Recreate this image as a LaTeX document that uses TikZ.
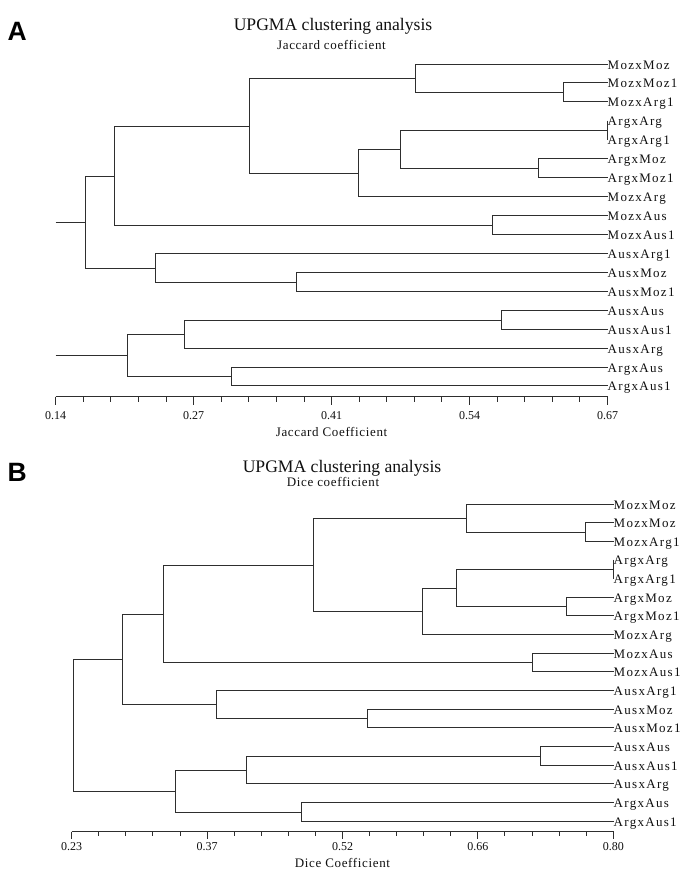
\documentclass[tikz,border=0pt]{standalone}
\usepackage{fontspec}
\setmainfont{Liberation Serif}
\setsansfont{Liberation Sans}
\newfontfamily\lblfont[LetterSpace=10]{Liberation Serif}
\newfontfamily\subfont[LetterSpace=5]{Liberation Serif}
\definecolor{linecol}{HTML}{2E2E2E}
\definecolor{txtcol}{HTML}{101010}
\begin{document}
\begin{tikzpicture}[x=1pt,y=-1pt,
  br/.style={draw=linecol, line width=1.6pt},
  axisline/.style={draw=linecol, line width=1.4pt},
  leaf/.style={anchor=west, inner sep=0pt, text=txtcol, font=\lblfont\fontsize{13}{14}\selectfont, text height=10.7pt, text depth=0pt},
  ticklbl/.style={anchor=base, inner sep=0pt, text=txtcol, font=\fontsize{12}{14}\selectfont},
  axtitle/.style={anchor=base, inner sep=0pt, text=txtcol, font=\subfont\fontsize{13}{15}\selectfont},
  maintitle/.style={anchor=base, inner sep=0pt, text=txtcol, font=\fontsize{17.6}{20}\selectfont},
  subtitle/.style={anchor=base, inner sep=0pt, text=txtcol, font=\subfont\fontsize{13}{15}\selectfont},
  panel/.style={anchor=base west, inner sep=0pt, font=\sffamily\bfseries\fontsize{26.5}{30}\selectfont}
]
\useasboundingbox (0,0) rectangle (685,886);

% ================= Panel A =================
\node[panel] (pA) at (7.5,40) {A};
\node[maintitle] (tA) at (333,30.7) {UPGMA clustering analysis};
\node[subtitle] (sA) at (331.5,49.3) {Jaccard coefficient};

\node[leaf] (A0) at (607.5,64.5) {MozxMoz};
\node[leaf] (A1) at (607.5,82.5) {MozxMoz1};
\node[leaf] (A2) at (607.5,101.5) {MozxArg1};
\node[leaf] (A3) at (607.5,120.5) {ArgxArg};
\node[leaf] (A4) at (607.5,139.5) {ArgxArg1};
\node[leaf] (A5) at (607.5,158.5) {ArgxMoz};
\node[leaf] (A6) at (607.5,177.5) {ArgxMoz1};
\node[leaf] (A7) at (607.5,196.5) {MozxArg};
\node[leaf] (A8) at (607.5,215.5) {MozxAus};
\node[leaf] (A9) at (607.5,234.5) {MozxAus1};
\node[leaf] (A10) at (607.5,253.5) {AusxArg1};
\node[leaf] (A11) at (607.5,272.5) {AusxMoz};
\node[leaf] (A12) at (607.5,291.5) {AusxMoz1};
\node[leaf] (A13) at (607.5,310.5) {AusxAus};
\node[leaf] (A14) at (607.5,329.5) {AusxAus1};
\node[leaf] (A15) at (607.5,348.5) {AusxArg};
\node[leaf] (A16) at (607.5,367.5) {ArgxAus};
\node[leaf] (A17) at (607.5,385.5) {ArgxAus1};

\coordinate (a1) at (563.5,92.5);
\coordinate (a2) at (415.5,78.5);
\coordinate (a3) at (607.5,130.5);
\coordinate (a4) at (538.5,168.5);
\coordinate (a5) at (400.5,149.5);
\coordinate (a6) at (358.5,173.5);
\coordinate (a7) at (249.5,126.5);
\coordinate (a8) at (492.5,225.5);
\coordinate (a9) at (114.5,176.5);
\coordinate (a10) at (296.5,282.5);
\coordinate (a11) at (155.5,268.5);
\coordinate (a12) at (85.5,222.5);
\coordinate (rA1) at (55.5,222.5);
\coordinate (b1) at (501.5,320.5);
\coordinate (b2) at (184.5,334.5);
\coordinate (b3) at (231.5,376.5);
\coordinate (b4) at (127.5,355.5);
\coordinate (rA2) at (55.5,355.5);

\draw[br] (A1.west) -| (a1) |- (A2.west);
\draw[br] (A0.west) -| (a2) |- (a1);
\draw[br] (A3.west) -| (a3) |- (A4.west);
\draw[br] (A5.west) -| (a4) |- (A6.west);
\draw[br] (a3) -| (a5) |- (a4);
\draw[br] (a5) -| (a6) |- (A7.west);
\draw[br] (a2) -| (a7) |- (a6);
\draw[br] (A8.west) -| (a8) |- (A9.west);
\draw[br] (a7) -| (a9) |- (a8);
\draw[br] (A11.west) -| (a10) |- (A12.west);
\draw[br] (A10.west) -| (a11) |- (a10);
\draw[br] (a9) -| (a12) |- (a11);
\draw[br] (rA1) -- (a12);
\draw[br] (A13.west) -| (b1) |- (A14.west);
\draw[br] (b1) -| (b2) |- (A15.west);
\draw[br] (A16.west) -| (b3) |- (A17.west);
\draw[br] (b2) -| (b4) |- (b3);
\draw[br] (rA2) -- (b4);

% axis A
\coordinate (axA0) at (55.5,396.5);
\coordinate (axA1) at (607.5,396.5);
\draw[axisline] (axA0) -- (axA1);
\foreach \i in {0,...,20}{
  \pgfmathsetmacro{\tx}{floor(55.7+27.59*\i)+0.5}
  \pgfmathtruncatemacro{\ismaj}{mod(\i,5)==0 ? 1 : 0}
  \ifnum\ismaj=1
    \draw[axisline] (\tx,396.5) -- (\tx,404.7);
  \else
    \draw[axisline] (\tx,396.5) -- (\tx,401.9);
  \fi
}
\node[ticklbl] (tA1) at (55.7,419.5) {0.14};
\node[ticklbl] (tA2) at (193.65,419.5) {0.27};
\node[ticklbl] (tA3) at (331.6,419.5) {0.41};
\node[ticklbl] (tA4) at (469.55,419.5) {0.54};
\node[ticklbl] (tA5) at (607.5,419.5) {0.67};
\node[axtitle] (xA) at (331.6,436) {Jaccard Coefficient};

% ================= Panel B =================
\node[panel] (pB) at (7.5,481) {B};
\node[maintitle] (tB) at (342,472.7) {UPGMA clustering analysis};
\node[subtitle] (sB) at (333,486.7) {Dice coefficient};

\node[leaf] (B0) at (613.5,504.5) {MozxMoz};
\node[leaf] (B1) at (613.5,522.5) {MozxMoz};
\node[leaf] (B2) at (613.5,541.5) {MozxArg1};
\node[leaf] (B3) at (613.5,559.5) {ArgxArg};
\node[leaf] (B4) at (613.5,578.5) {ArgxArg1};
\node[leaf] (B5) at (613.5,597.5) {ArgxMoz};
\node[leaf] (B6) at (613.5,615.5) {ArgxMoz1};
\node[leaf] (B7) at (613.5,634.5) {MozxArg};
\node[leaf] (B8) at (613.5,653.5) {MozxAus};
\node[leaf] (B9) at (613.5,671.5) {MozxAus1};
\node[leaf] (B10) at (613.5,690.5) {AusxArg1};
\node[leaf] (B11) at (613.5,709.5) {AusxMoz};
\node[leaf] (B12) at (613.5,727.5) {AusxMoz1};
\node[leaf] (B13) at (613.5,746.5) {AusxAus};
\node[leaf] (B14) at (613.5,765.5) {AusxAus1};
\node[leaf] (B15) at (613.5,783.5) {AusxArg};
\node[leaf] (B16) at (613.5,802.5) {ArgxAus};
\node[leaf] (B17) at (613.5,821.5) {ArgxAus1};

\coordinate (c1) at (585.5,532.5);
\coordinate (c2) at (466.5,518.5);
\coordinate (c3) at (613.5,569.5);
\coordinate (c4) at (566.5,606.5);
\coordinate (c5) at (456.5,588.5);
\coordinate (c6) at (422.5,611.5);
\coordinate (c7) at (313.5,565.5);
\coordinate (c8) at (532.5,662.5);
\coordinate (c9) at (163.5,614.5);
\coordinate (c10) at (367.5,718.5);
\coordinate (c11) at (216.5,704.5);
\coordinate (c12) at (122.5,659.5);
\coordinate (d1) at (540.5,756.5);
\coordinate (d2) at (246.5,770.5);
\coordinate (d3) at (301.5,812.5);
\coordinate (d4) at (175.5,791.5);
\coordinate (rB) at (73.5,725.5);

\draw[br] (B1.west) -| (c1) |- (B2.west);
\draw[br] (B0.west) -| (c2) |- (c1);
\draw[br] (B3.west) -| (c3) |- (B4.west);
\draw[br] (B5.west) -| (c4) |- (B6.west);
\draw[br] (c3) -| (c5) |- (c4);
\draw[br] (c5) -| (c6) |- (B7.west);
\draw[br] (c2) -| (c7) |- (c6);
\draw[br] (B8.west) -| (c8) |- (B9.west);
\draw[br] (c7) -| (c9) |- (c8);
\draw[br] (B11.west) -| (c10) |- (B12.west);
\draw[br] (B10.west) -| (c11) |- (c10);
\draw[br] (c9) -| (c12) |- (c11);
\draw[br] (B13.west) -| (d1) |- (B14.west);
\draw[br] (d1) -| (d2) |- (B15.west);
\draw[br] (B16.west) -| (d3) |- (B17.west);
\draw[br] (d2) -| (d4) |- (d3);
\draw[br] (c12) -| (rB) |- (d4);

% axis B
\coordinate (axB0) at (71.5,831.5);
\coordinate (axB1) at (613.5,831.5);
\draw[axisline] (axB0) -- (axB1);
\foreach \i in {0,...,20}{
  \pgfmathsetmacro{\tx}{floor(71.7+27.08*\i)+0.5}
  \pgfmathtruncatemacro{\ismaj}{mod(\i,5)==0 ? 1 : 0}
  \ifnum\ismaj=1
    \draw[axisline] (\tx,831.5) -- (\tx,838.7);
  \else
    \draw[axisline] (\tx,831.5) -- (\tx,836.2);
  \fi
}
\node[ticklbl] (tB1) at (71.7,850) {0.23};
\node[ticklbl] (tB2) at (207.1,850) {0.37};
\node[ticklbl] (tB3) at (342.5,850) {0.52};
\node[ticklbl] (tB4) at (477.9,850) {0.66};
\node[ticklbl] (tB5) at (613.3,850) {0.80};
\node[axtitle] (xB) at (342.5,867) {Dice Coefficient};
\end{tikzpicture}
\end{document}
